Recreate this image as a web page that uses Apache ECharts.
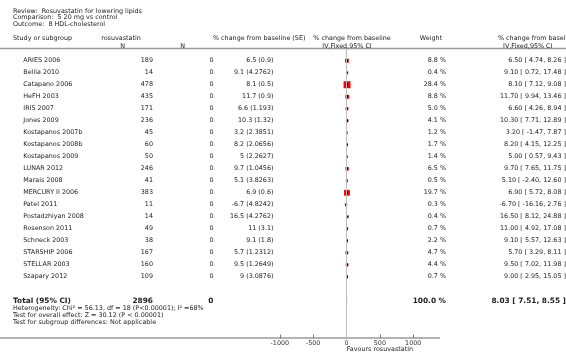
<!DOCTYPE html>
<html>
<head>
<meta charset="utf-8">
<script src="https://cdn.jsdelivr.net/npm/echarts@6/dist/echarts.min.js"></script>
<style>
  html, body { margin: 0; padding: 0; background: #fff; }
  #chart { width: 566px; height: 361px; }
</style>
</head>
<body>
<div id="chart"></div>
<script>
// data
var studies = ["ARIES 2006", "Bellia 2010", "Catapano 2006", "HeFH 2003", "IRIS 2007", "Jones 2009",
  "Kostapanos 2007b", "Kostapanos 2008b", "Kostapanos 2009", "LUNAR 2012", "Marais 2008", "MERCURY II 2006",
  "Patel 2011", "Postadzhiyan 2008", "Rosenson 2011", "Schneck 2003", "STARSHIP 2006", "STELLAR 2003", "Szapary 2012"];
var nRosu = [189, 14, 478, 435, 171, 236, 45, 60, 50, 246, 41, 383, 11, 14, 49, 38, 167, 160, 109];
var nControl = [0, 0, 0, 0, 0, 0, 0, 0, 0, 0, 0, 0, 0, 0, 0, 0, 0, 0, 0];
var change = [6.5, 9.1, 8.1, 11.7, 6.6, 10.3, 3.2, 8.2, 5, 9.7, 5.1, 6.9, -6.7, 16.5, 11, 9.1, 5.7, 9.5, 9];
var se = [0.9, 4.2762, 0.5, 0.9, 1.193, 1.32, 2.3851, 2.0656, 2.2627, 1.0456, 3.8263, 0.6, 4.8242, 4.2762, 3.1, 1.8, 1.2312, 1.2649, 3.0876];
var ciLow = [4.74, 0.72, 7.12, 9.94, 4.26, 7.71, -1.47, 4.15, 0.57, 7.65, -2.40, 5.72, -16.16, 8.12, 4.92, 5.57, 3.29, 7.02, 2.95];
var ciHigh = [8.26, 17.48, 9.08, 13.46, 8.94, 12.89, 7.87, 12.25, 9.43, 11.75, 12.60, 8.08, 2.76, 24.88, 17.08, 12.63, 8.11, 11.98, 15.05];
var weight = [8.8, 0.4, 28.4, 8.8, 5.0, 4.1, 1.2, 1.7, 1.4, 6.5, 0.5, 19.7, 0.3, 0.4, 0.7, 2.2, 4.7, 4.4, 0.7];

var totalN = [2896, 0];
var totalWeight = 100.0;
var totalEst = [8.03, 7.51, 8.55];   // estimate, low, high
var xTicks = [-1000, 1000, 500];       // min, max, interval

var FONT = '6.4px "DejaVu Sans"';
var BOLD = 'bold 7.4px "DejaVu Sans"';
var TXT = '#222';

var chart = echarts.init(document.getElementById('chart'));

// table rows (study rows 0..18, total row at 20)
var tableRows = [];
for (var i = 0; i < studies.length; i++) {
  tableRows.push([0, i, studies[i], String(nRosu[i]), String(nControl[i]),
    change[i] + ' (' + se[i] + ')', weight[i].toFixed(1) + ' %',
    change[i].toFixed(2) + ' [ ' + ciLow[i].toFixed(2) + ', ' + ciHigh[i].toFixed(2) + ' ]', 0]);
}
tableRows.push([0, 20, 'Total (95% CI)', String(totalN[0]), String(totalN[1]), '',
  totalWeight.toFixed(1) + ' %',
  totalEst[0].toFixed(2) + ' [ ' + totalEst[1].toFixed(2) + ', ' + totalEst[2].toFixed(2) + ' ]', 1]);

var forestData = [];
for (var j = 0; j < studies.length; j++) {
  forestData.push([change[j], j, ciLow[j], ciHigh[j], weight[j]]);
}

function txt(x, y, s, align, font) {
  return { type: 'text', x: x, y: y, silent: true,
    style: { text: s, fill: TXT, font: font || FONT, align: align || 'left', verticalAlign: 'middle' } };
}

chart.setOption({
  animation: false,
  grid: [
    { left: 0, right: 0, top: 48.7, bottom: 23 },
    { left: 279.8, right: 152.8, top: 48.7, bottom: 23 }
  ],
  xAxis: [
    { gridIndex: 0, type: 'value', min: 0, max: 566, show: false },
    { gridIndex: 1, type: 'value', min: xTicks[0], max: xTicks[1], interval: xTicks[2],
      position: 'bottom',
      axisLine: { show: false, onZero: false }, splitLine: { show: false },
      axisTick: { show: true, inside: true, length: 3.5, lineStyle: { color: '#777' } },
      axisLabel: { fontSize: 6.4, fontFamily: 'DejaVu Sans', color: '#333', margin: 2.5,
        showMinLabel: true, showMaxLabel: true,
        formatter: function (v) { return String(v); } } }
  ],
  yAxis: [
    { gridIndex: 0, type: 'value', min: -1, max: 23.1, inverse: true, show: false },
    { gridIndex: 1, type: 'value', min: -1, max: 23.1, inverse: true, show: false }
  ],
  graphic: [
    { type: 'line', silent: true, z: -1, shape: { x1: 0, y1: 48.5, x2: 566, y2: 48.5 },
      style: { stroke: '#9a9a9a', lineWidth: 1.5 } },
    { type: 'line', silent: true, z: -1, shape: { x1: 0, y1: 338, x2: 440, y2: 338 },
      style: { stroke: '#9a9a9a', lineWidth: 1.5 } },
    txt(13, 11.3, 'Review:  Rosuvastatin for lowering lipids'),
    txt(13, 17.6, 'Comparison:  5 20 mg vs control'),
    txt(13, 24, 'Outcome:  8 HDL-cholesterol'),
    txt(13, 38.3, 'Study or subgroup'),
    txt(121, 38.3, 'rosuvastatin', 'center'),
    txt(122.7, 46, 'N', 'center'),
    txt(182.7, 46, 'N', 'center'),
    txt(213, 38.3, '% change from baseline (SE)'),
    txt(352, 38.3, '% change from baseline', 'center'),
    txt(347, 46, 'IV,Fixed,95% CI', 'center'),
    txt(431, 38.3, 'Weight', 'center'),
    txt(498, 38.3, '% change from baseline'),
    txt(503, 46, 'IV,Fixed,95% CI'),
    txt(13, 308.3, 'Heterogeneity: Chi\u00b2 = 56.13, df = 18 (P<0.00001); I\u00b2 =68%'),
    txt(13, 315, 'Test for overall effect: Z = 30.12 (P < 0.00001)'),
    txt(13, 322.8, 'Test for subgroup differences: Not applicable'),
    txt(346.7, 349.3, 'Favours rosuvastatin')
  ],
  series: [
    {
      // table text
      type: 'custom', xAxisIndex: 0, yAxisIndex: 0, silent: true, clip: false,
      data: tableRows,
      renderItem: function (params, api) {
        var y = api.coord([0, api.value(1)])[1];
        var row = tableRows[params.dataIndex];
        var bold = row[8] === 1;
        var f = bold ? BOLD : FONT;
        var kids = [
          txt(bold ? 13 : 23.3, y, row[2], 'left', f),
          txt(153, y, row[3], 'right', f),
          txt(213.5, y, row[4], 'right', f),
          txt(273.5, y, row[5], 'right', f),
          txt(446, y, row[6], 'right', f),
          txt(566, y, row[7], 'right', f)
        ];
        return { type: 'group', children: kids };
      }
    },
    {
      // zero reference line
      type: 'line', xAxisIndex: 1, yAxisIndex: 1, silent: true, symbol: 'none',
      data: [[0, -1], [0, 23.1]],
      lineStyle: { color: '#bdbdbd', width: 1 }
    },
    {
      // study estimates
      type: 'custom', xAxisIndex: 1, yAxisIndex: 1, silent: true, clip: false,
      data: forestData,
      renderItem: function (params, api) {
        var p = api.coord([api.value(0), api.value(1)]);
        var lo = api.coord([api.value(2), api.value(1)])[0];
        var hi = api.coord([api.value(3), api.value(1)])[0];
        var s = Math.max(1, 7 * Math.sqrt(api.value(4) / 28.4));
        return { type: 'group', children: [
          { type: 'rect', shape: { x: p[0] - s / 2, y: p[1] - s / 2, width: s, height: s },
            style: { fill: '#ff0000' } },
          { type: 'line', shape: { x1: lo, y1: p[1], x2: hi, y2: p[1] },
            style: { stroke: '#000', lineWidth: 1 } },
          { type: 'line', shape: { x1: lo, y1: p[1] - 1.5, x2: lo, y2: p[1] + 1.5 },
            style: { stroke: '#000', lineWidth: 0.8 } },
          { type: 'line', shape: { x1: hi, y1: p[1] - 1.5, x2: hi, y2: p[1] + 1.5 },
            style: { stroke: '#000', lineWidth: 0.8 } }
        ] };
      }
    },
    {
      // pooled diamond
      type: 'custom', xAxisIndex: 1, yAxisIndex: 1, silent: true, clip: false,
      data: [[totalEst[0], 20, totalEst[1], totalEst[2]]],
      renderItem: function (params, api) {
        var p = api.coord([api.value(0), api.value(1)]);
        var lo = api.coord([api.value(2), api.value(1)])[0];
        var hi = api.coord([api.value(3), api.value(1)])[0];
        return { type: 'polygon',
          shape: { points: [[lo, p[1]], [p[0], p[1] - 3], [hi, p[1]], [p[0], p[1] + 3]] },
          style: { fill: '#000' } };
      }
    }
  ]
});
</script>
</body>
</html>
